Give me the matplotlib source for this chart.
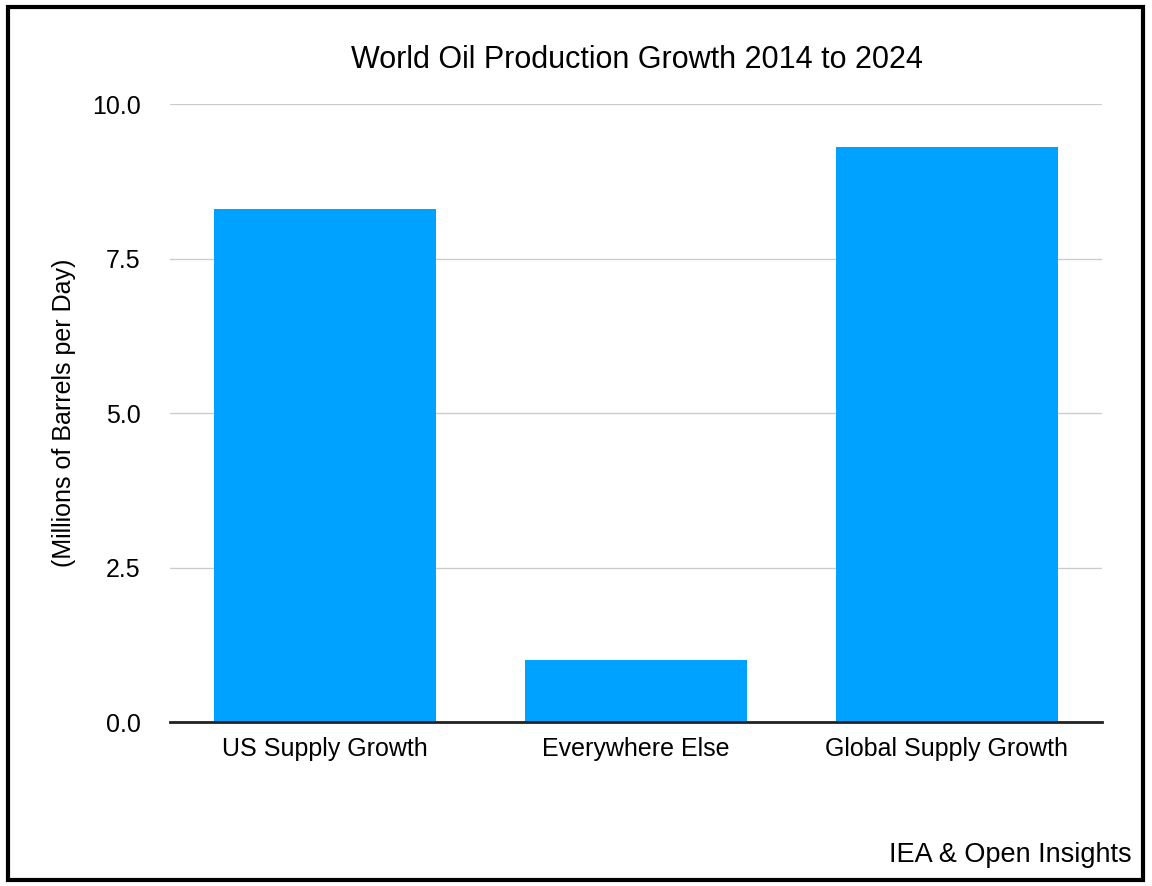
import matplotlib.pyplot as plt
from matplotlib.patches import Rectangle

categories = ['US Supply Growth', 'Everywhere Else', 'Global Supply Growth']
growth = [8.3, 1.0, 9.3]
y_ticks = [0.0, 2.5, 5.0, 7.5, 10.0]

plt.rcParams['font.family'] = ['Liberation Sans', 'DejaVu Sans']

fig = plt.figure(figsize=(11.52, 8.86), dpi=100)
ax = fig.add_axes([0.1476, 0.1851, 0.809, 0.6975])

x = range(len(categories))
ax.bar(x, growth, width=0.715, color='#00A2FF', zorder=3)

ax.set_xlim(-0.5, len(categories) - 0.5)
ax.set_ylim(0, 10)
ax.set_yticks(y_ticks)
ax.set_yticklabels([f'{v:.1f}' for v in y_ticks], fontsize=18)
ax.set_xticks(list(x))
ax.set_xticklabels(categories, fontsize=18)
ax.tick_params(length=0)
ax.tick_params(axis='y', pad=21)
ax.tick_params(axis='x', pad=11)

ax.grid(axis='y', color='#cccccc', linewidth=1, zorder=0)
for s in ['top', 'right', 'left']:
    ax.spines[s].set_visible(False)
ax.spines['bottom'].set_linewidth(2)
ax.spines['bottom'].set_color('#222222')
ax.spines['bottom'].set_zorder(4)

ax.set_ylabel('(Millions of Barrels per Day)', fontsize=18)
ax.yaxis.set_label_coords(-0.101, 0.5)
fig.text(0.5525, 0.932, 'World Oil Production Growth 2014 to 2024', fontsize=22,
         ha='center', va='center')
fig.text(0.982, 0.035, 'IEA & Open Insights', fontsize=19.5, ha='right', va='center')

# outer frame
fig.patches.append(Rectangle((0.007, 0.007), 0.985, 0.985, transform=fig.transFigure,
                             fill=False, edgecolor='black', linewidth=3))

fig.savefig('out.png', dpi=100)
